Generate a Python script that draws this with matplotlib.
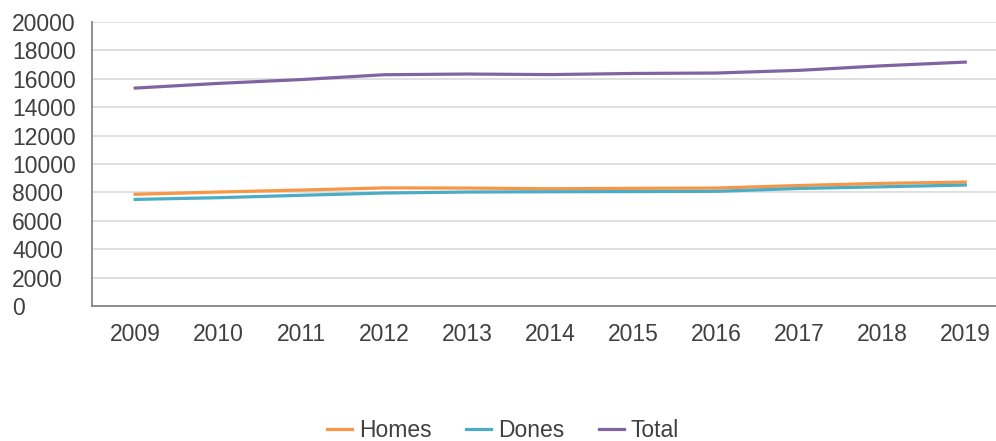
import matplotlib
matplotlib.use("Agg")
import matplotlib.pyplot as plt

plt.rcParams['font.family'] = ['Liberation Sans', 'DejaVu Sans']

# data
years = ['2009', '2010', '2011', '2012', '2013', '2014', '2015', '2016', '2017', '2018', '2019']
homes = [7870, 8030, 8170, 8320, 8310, 8260, 8290, 8310, 8490, 8640, 8730]
dones = [7510, 7630, 7800, 7960, 8030, 8050, 8060, 8080, 8280, 8400, 8520]
total = [15350, 15680, 15950, 16290, 16340, 16300, 16380, 16410, 16600, 16920, 17180]
yticks = list(range(0, 20001, 2000))

fig = plt.figure(figsize=(9.96, 4.41), dpi=100)
ax = fig.add_axes([0.0924, 0.306, 0.9076, 0.644])

x = range(len(years))
ax.plot(x, homes, color='#f79646', lw=2.3, label='Homes')
ax.plot(x, dones, color='#4bacc6', lw=2.3, label='Dones')
ax.plot(x, total, color='#8064a2', lw=2.3, label='Total')

ax.set_ylim(0, 20000)
ax.set_xlim(-0.52, 10.37)
ax.set_yticks(yticks)
ax.set_xticks(list(x))
ax.set_xticklabels(years)

ax.grid(axis='y', color='#d9d9d9', lw=1.2)
ax.set_axisbelow(True)
for side in ['top', 'right']:
    ax.spines[side].set_visible(False)
ax.spines['left'].set_color('#868686')
ax.spines['bottom'].set_color('#868686')
ax.spines['left'].set_linewidth(1.3)
ax.spines['bottom'].set_linewidth(1.3)

ax.tick_params(axis='both', length=0, labelsize=16.5, labelcolor='#404040')
ax.tick_params(axis='y', pad=57.6)
ax.tick_params(axis='x', pad=12)
for lab in ax.get_yticklabels():
    lab.set_horizontalalignment('left')

fig.legend(loc='lower center', bbox_to_anchor=(0.505, -0.048), ncol=3, frameon=False,
           fontsize=16.5, handlelength=1.1, handletextpad=0.3, columnspacing=1.5,
           labelcolor='#404040')

fig.savefig('out.png', dpi=100)
